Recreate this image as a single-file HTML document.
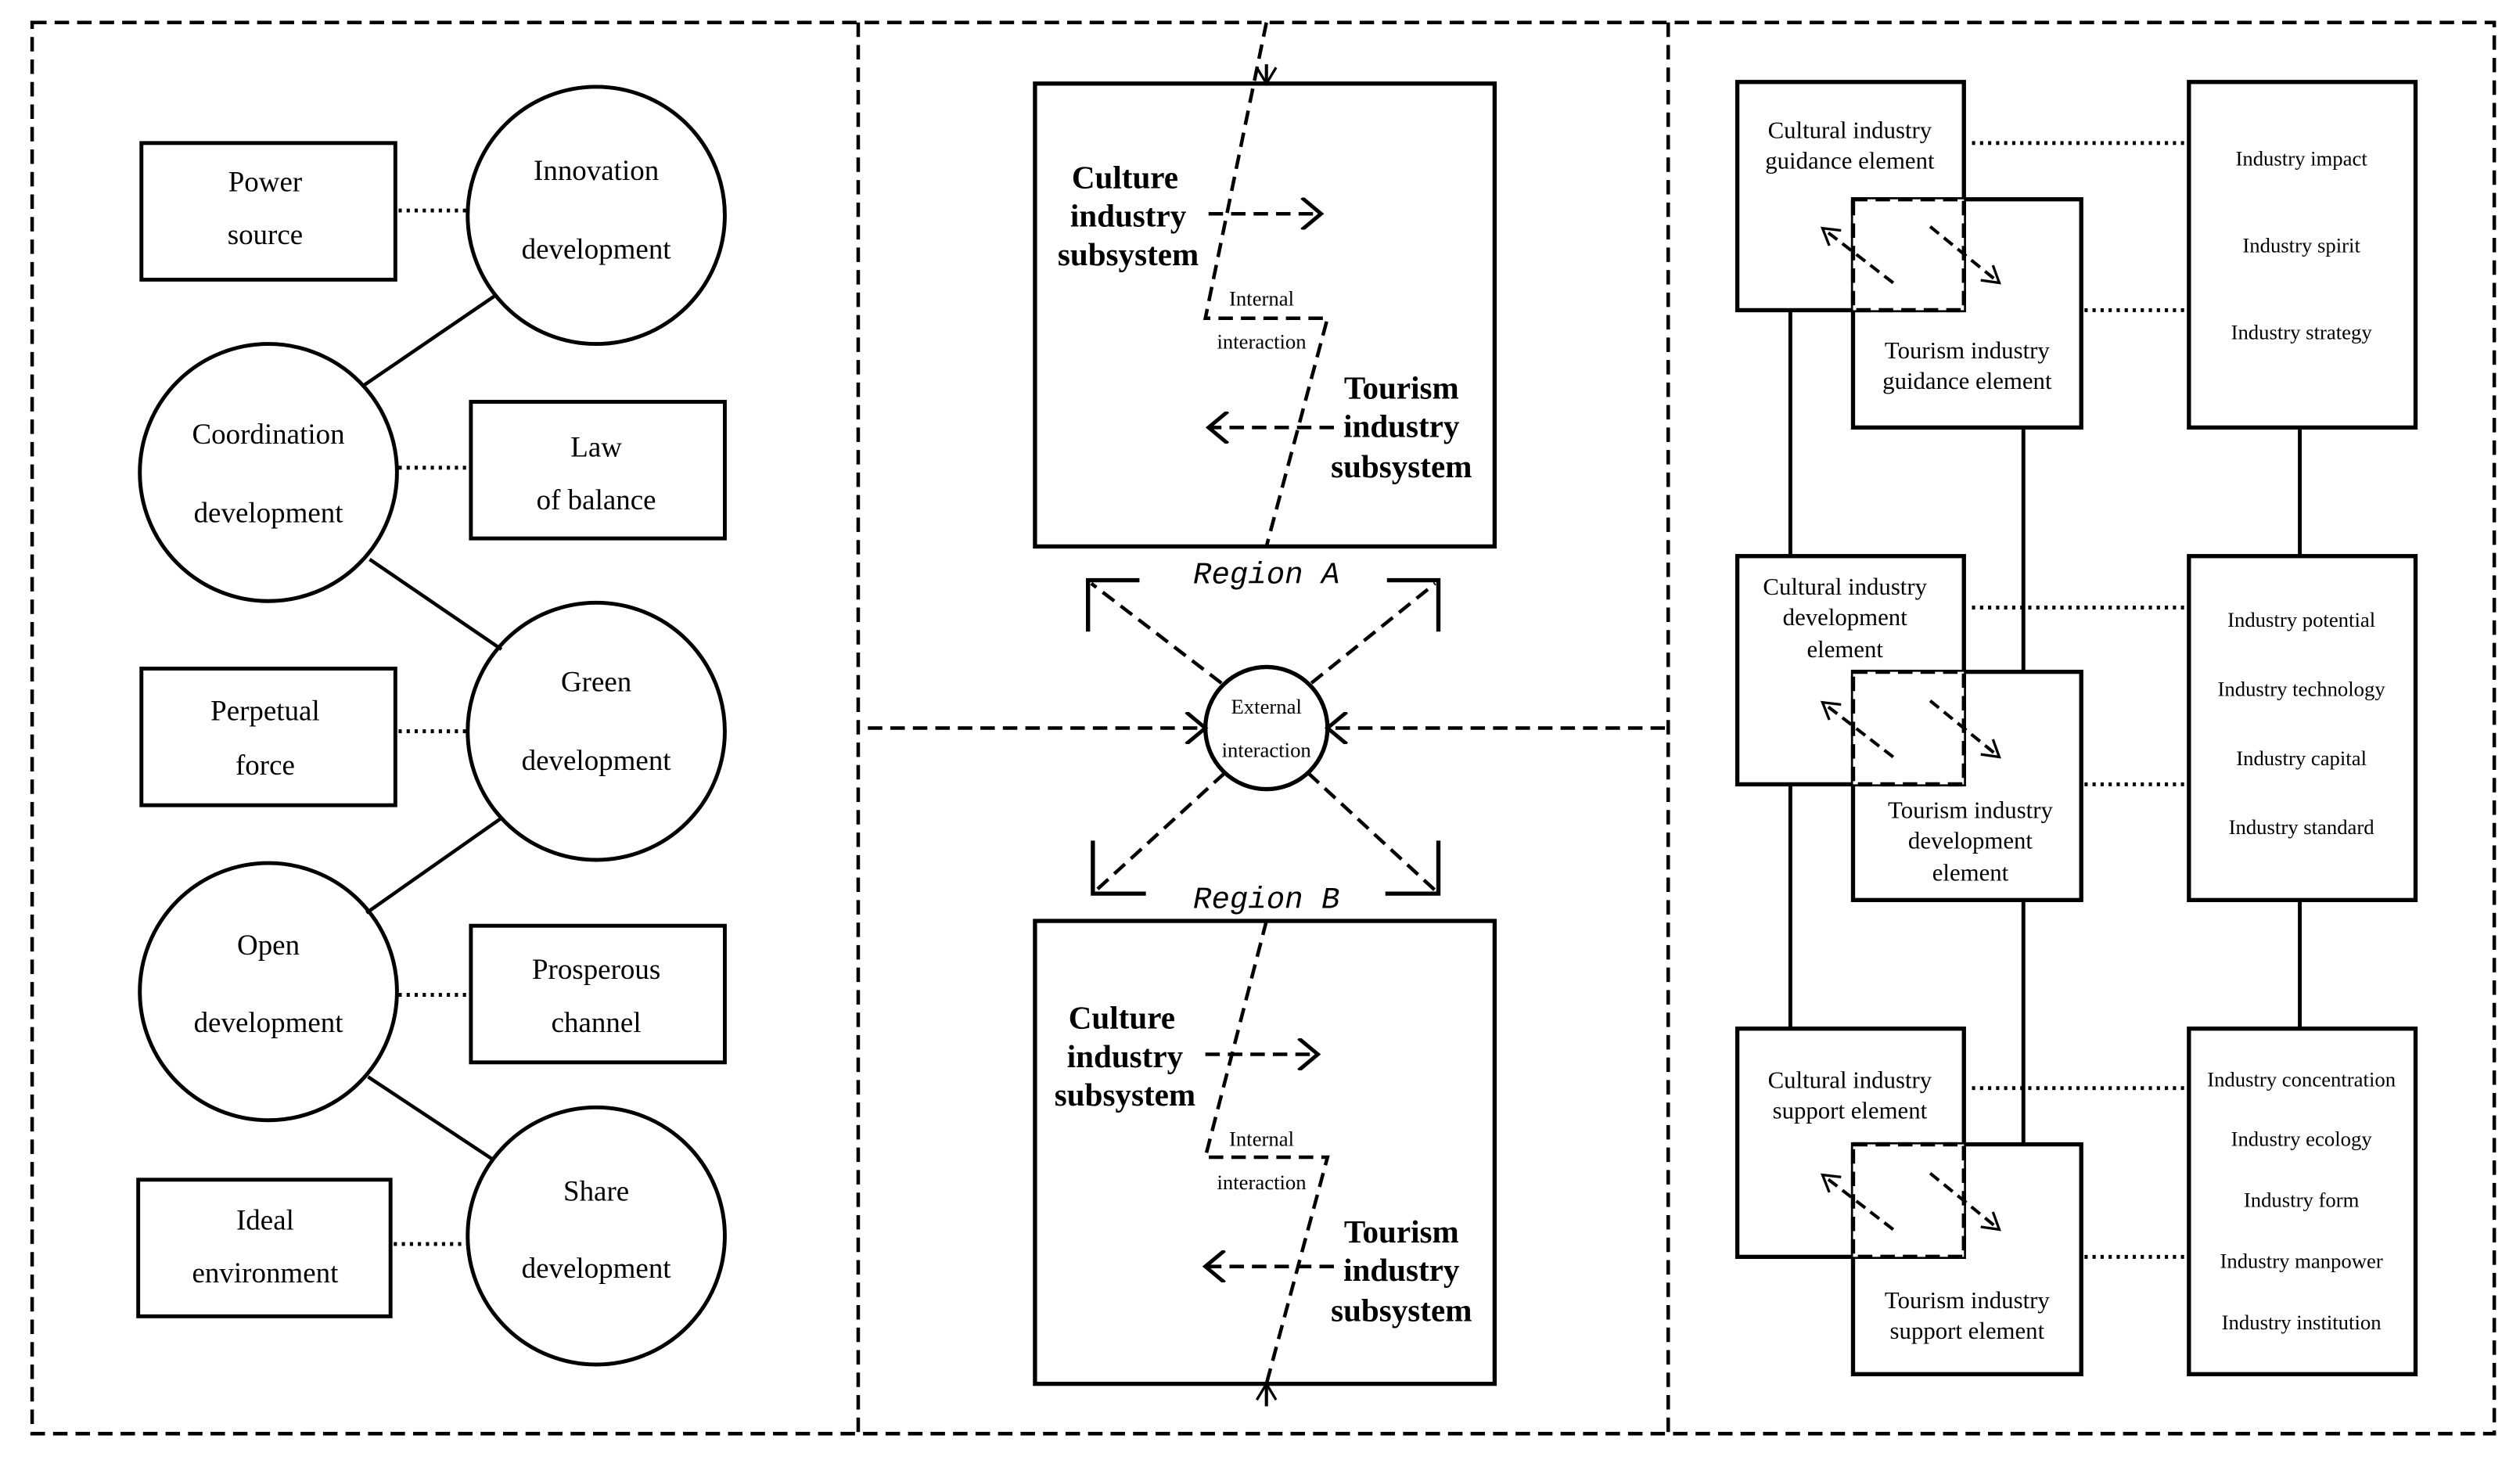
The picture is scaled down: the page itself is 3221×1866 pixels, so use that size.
<!DOCTYPE html>
<html><head><meta charset="utf-8"><style>
html,body{margin:0;padding:0;background:#fff;}
svg{display:block;}
text{font-family:"Liberation Serif",serif;fill:#000;}
</style></head><body>
<svg width="3221" height="1866" viewBox="0 0 1568 908.4" preserveAspectRatio="none" xmlns="http://www.w3.org/2000/svg">
<defs>
<marker id="ahb" markerWidth="20" markerHeight="20" refX="16" refY="10" orient="auto" markerUnits="userSpaceOnUse" viewBox="0 0 20 20">
<path d="M4,0 L16,10 L4,20" fill="none" stroke="#000" stroke-width="2.4"/></marker>
<marker id="ahs" markerWidth="14" markerHeight="14" refX="12" refY="7" orient="auto" markerUnits="userSpaceOnUse" viewBox="0 0 14 14">
<path d="M2,1 L12,7 L2,13" fill="none" stroke="#000" stroke-width="1.6"/></marker>
</defs>
<g fill="none" stroke="#000" stroke-width="2.2" stroke-dasharray="9,5">
<rect x="20" y="14" width="1532" height="878"/>
<line x1="534" y1="14" x2="534" y2="892"/>
<line x1="1038" y1="14" x2="1038" y2="892"/>
</g>
<!-- Left panel -->
<g fill="#fff" stroke="#000" stroke-width="2.4">
<rect x="88" y="89" width="158" height="85"/>
<rect x="293" y="250" width="158" height="85"/>
<rect x="88" y="416" width="158" height="85"/>
<rect x="293" y="576" width="158" height="85"/>
<rect x="86" y="734" width="157" height="85"/>
<circle cx="371" cy="134" r="80"/>
<circle cx="167" cy="294" r="80"/>
<circle cx="371" cy="455" r="80"/>
<circle cx="167" cy="617" r="80"/>
<circle cx="371" cy="769" r="80"/>
</g>
<g stroke="#000" stroke-width="2.2">
<line x1="226" y1="240" x2="308" y2="184"/>
<line x1="230" y1="348" x2="312" y2="404"/>
<line x1="228" y1="568" x2="312" y2="509"/>
<line x1="229" y1="670" x2="306" y2="721"/>
</g>
<g stroke="#000" stroke-width="2.4" stroke-dasharray="2,3">
<line x1="248" y1="131" x2="291" y2="131"/>
<line x1="248" y1="291" x2="293" y2="291"/>
<line x1="248" y1="455" x2="291" y2="455"/>
<line x1="248" y1="619" x2="293" y2="619"/>
<line x1="245" y1="774" x2="291" y2="774"/>
</g>
<g font-size="18" text-anchor="middle">
<text x="165" y="119">Power</text><text x="165" y="152">source</text>
<text x="371" y="284">Law</text><text x="371" y="317">of balance</text>
<text x="165" y="448">Perpetual</text><text x="165" y="482">force</text>
<text x="371" y="609">Prosperous</text><text x="371" y="642">channel</text>
<text x="165" y="765">Ideal</text><text x="165" y="798">environment</text>
<text x="371" y="112">Innovation</text><text x="371" y="161">development</text>
<text x="167" y="276">Coordination</text><text x="167" y="325">development</text>
<text x="371" y="430">Green</text><text x="371" y="479">development</text>
<text x="167" y="594">Open</text><text x="167" y="642">development</text>
<text x="371" y="747">Share</text><text x="371" y="795">development</text>
</g>
<!-- Middle panel -->
<g fill="none" stroke="#000" stroke-width="2.6">
<rect x="644" y="52" width="286" height="288"/>
<rect x="644" y="573" width="286" height="288"/>
<circle cx="788" cy="453" r="38" fill="#fff"/>
</g>
<g fill="none" stroke="#000" stroke-width="2.2" stroke-dasharray="9,5">
<polyline points="788,14 750,198 826,198 788,340"/>
<polyline points="788,573 750,720 826,720 788,861"/>
<line x1="752" y1="133" x2="822" y2="133" marker-end="url(#ahb)"/>
<line x1="830" y1="266" x2="752" y2="266" marker-end="url(#ahb)"/>
<line x1="750" y1="656" x2="820" y2="656" marker-end="url(#ahb)"/>
<line x1="830" y1="788" x2="750" y2="788" marker-end="url(#ahb)"/>
<line x1="540" y1="453" x2="750" y2="453" marker-end="url(#ahb)"/>
<line x1="1036" y1="453" x2="826" y2="453" marker-end="url(#ahb)"/>
<line x1="760" y1="425" x2="679" y2="363"/>
<line x1="816" y1="425" x2="893" y2="363"/>
<line x1="762" y1="481" x2="682" y2="554"/>
<line x1="814" y1="481" x2="893" y2="554"/>
</g>
<g fill="none" stroke="#000" stroke-width="2.6">
<polyline points="677,393 677,361 709,361"/>
<polyline points="863,361 895,361 895,393"/>
<polyline points="680,523 680,556 713,556"/>
<polyline points="862,556 895,556 895,523"/>
</g>
<g fill="none" stroke="#000" stroke-width="2">
<line x1="788" y1="40" x2="788" y2="52" marker-end="url(#ahs)"/>
<line x1="788" y1="875" x2="788" y2="861" marker-end="url(#ahs)"/>
</g>
<g font-size="20" font-weight="bold" text-anchor="middle">
<text x="700" y="117">Culture</text><text x="702" y="141">industry</text><text x="702" y="165">subsystem</text>
<text x="872" y="248">Tourism</text><text x="872" y="272">industry</text><text x="872" y="297">subsystem</text>
<text x="698" y="640">Culture</text><text x="700" y="664">industry</text><text x="700" y="688">subsystem</text>
<text x="872" y="773">Tourism</text><text x="872" y="797">industry</text><text x="872" y="822">subsystem</text>
</g>
<g font-size="13" text-anchor="middle">
<text x="785" y="190">Internal</text><text x="785" y="217">interaction</text>
<text x="785" y="713">Internal</text><text x="785" y="740">interaction</text>
<text x="788" y="444">External</text><text x="788" y="471">interaction</text>
</g>
<g font-size="19" font-style="italic" text-anchor="middle">
<text x="788" y="363" style="font-family:'Liberation Mono',monospace">Region A</text>
<text x="788" y="565" style="font-family:'Liberation Mono',monospace">Region B</text>
</g>
<!-- Right panel -->
<g stroke="#000" stroke-width="2.4">
<line x1="1114" y1="193" x2="1114" y2="346"/><line x1="1114" y1="488" x2="1114" y2="640"/>
<line x1="1259" y1="266" x2="1259" y2="418"/><line x1="1259" y1="560" x2="1259" y2="712"/>
<line x1="1431" y1="266" x2="1431" y2="346"/><line x1="1431" y1="560" x2="1431" y2="640"/>
</g>
<g fill="none" stroke="#000" stroke-width="2.6">
<rect x="1081" y="51" width="141" height="142"/>
<rect x="1153" y="124" width="142" height="142"/>
<rect x="1362" y="51" width="141" height="215"/>
<rect x="1081" y="346" width="141" height="142"/>
<rect x="1153" y="418" width="142" height="142"/>
<rect x="1362" y="346" width="141" height="214"/>
<rect x="1081" y="640" width="141" height="142"/>
<rect x="1153" y="712" width="142" height="143"/>
<rect x="1362" y="640" width="141" height="215"/>
</g>
<g fill="#fff" stroke="#000" stroke-width="2.6" stroke-dasharray="9,5">
<rect x="1153" y="124" width="69" height="69"/>
<rect x="1153" y="418" width="69" height="70"/>
<rect x="1153" y="712" width="69" height="70"/>
</g>
<g stroke="#000" stroke-width="2" stroke-dasharray="7,4" fill="none">
<line x1="1178" y1="176" x2="1134" y2="142" marker-end="url(#ahs)"/>
<line x1="1201" y1="141" x2="1244" y2="176" marker-end="url(#ahs)"/>
<line x1="1178" y1="471" x2="1134" y2="437" marker-end="url(#ahs)"/>
<line x1="1201" y1="436" x2="1244" y2="471" marker-end="url(#ahs)"/>
<line x1="1178" y1="765" x2="1134" y2="731" marker-end="url(#ahs)"/>
<line x1="1201" y1="730" x2="1244" y2="765" marker-end="url(#ahs)"/>
</g>
<g stroke="#000" stroke-width="2.4" stroke-dasharray="2,3">
<line x1="1227" y1="89" x2="1359" y2="89"/><line x1="1297" y1="193" x2="1359" y2="193"/>
<line x1="1227" y1="378" x2="1359" y2="378"/><line x1="1297" y1="488" x2="1359" y2="488"/>
<line x1="1227" y1="677" x2="1359" y2="677"/><line x1="1297" y1="782" x2="1359" y2="782"/>
</g>
<g font-size="15" text-anchor="middle">
<text x="1151" y="86">Cultural industry</text><text x="1151" y="105">guidance element</text>
<text x="1224" y="223">Tourism industry</text><text x="1224" y="242">guidance element</text>
<text x="1148" y="370">Cultural industry</text><text x="1148" y="389">development</text><text x="1148" y="409">element</text>
<text x="1226" y="509">Tourism industry</text><text x="1226" y="528">development</text><text x="1226" y="548">element</text>
<text x="1151" y="677">Cultural industry</text><text x="1151" y="696">support element</text>
<text x="1224" y="814">Tourism industry</text><text x="1224" y="833">support element</text>
</g>
<g font-size="13" text-anchor="middle">
<text x="1432" y="103">Industry impact</text>
<text x="1432" y="157">Industry spirit</text>
<text x="1432" y="211">Industry strategy</text>
<text x="1432" y="390">Industry potential</text>
<text x="1432" y="433">Industry technology</text>
<text x="1432" y="476">Industry capital</text>
<text x="1432" y="519">Industry standard</text>
<text x="1432" y="676">Industry concentration</text>
<text x="1432" y="713">Industry ecology</text>
<text x="1432" y="751">Industry form</text>
<text x="1432" y="789">Industry manpower</text>
<text x="1432" y="827">Industry institution</text>
</g>
</svg>
</body></html>
